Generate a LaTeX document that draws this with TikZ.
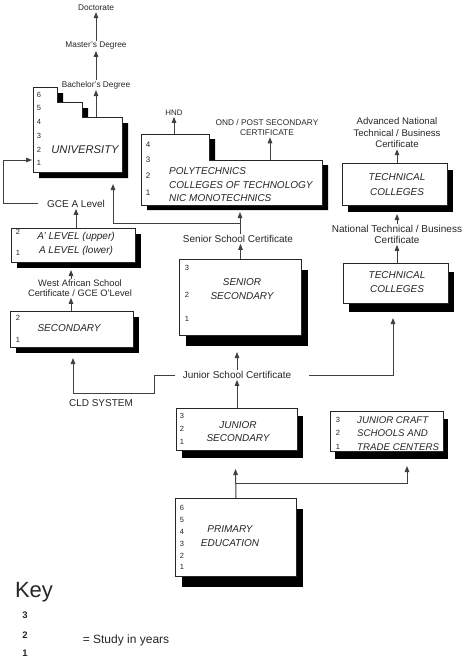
\documentclass[tikz,border=0pt]{standalone}
\usepackage{fontspec}
\setmainfont{Liberation Sans}
\usetikzlibrary{arrows.meta,shadows}
\tikzset{
  ink/.style={text=black!85},
  lbl/.style={ink, inner sep=0pt, align=center, font=\fontsize{10}{11}\selectfont},
  sml/.style={ink, inner sep=0pt, align=center, font=\fontsize{8.3}{10}\selectfont},
  btxt/.style={ink, inner sep=0pt, align=center, font=\fontsize{10}{14}\selectfont\itshape},
  num/.style={ink, inner sep=0pt, font=\fontsize{7.5}{9}\selectfont},
  keynum/.style={ink, inner sep=0pt, font=\fontsize{9.5}{10}\selectfont\bfseries},
  box/.style={draw=black!85, fill=white, line width=1pt, inner sep=0pt, anchor=north west},
  sh/.style 2 args={drop shadow={shadow xshift=#1pt, shadow yshift=-#2pt, fill=black, opacity=1}},
  conn/.style={draw=black!75, line width=1pt},
  arr/.style={conn, -{Triangle[length=6pt,width=4.6pt]}},
}
\begin{document}
\begin{tikzpicture}[x=1pt,y=-1pt]
\useasboundingbox (0,0) rectangle (468,659);

% ---------- University (stepped) ----------
\fill[black, shift={(6,6)}] (33,87) -- (57,87) -- (57,102) -- (82,102) -- (82,117) -- (122,117) -- (122,172) -- (33,172) -- cycle;
\draw[draw=black!85, fill=white, line width=1pt] (33,87) -- (57,87) -- (57,102) -- (82,102) -- (82,117) -- (122,117) -- (122,172) -- (33,172) -- cycle;
\node[btxt, font=\fontsize{11.2}{13}\selectfont\itshape] (uni) at (85,150) {UNIVERSITY};
\foreach \n/\y in {6/95,5/108,4/122,3/136,2/150,1/163} \node[num] (u\n) at (39,\y) {\n};

% ---------- Polytechnics (stepped) ----------
\fill[black, shift={(6,5)}] (141,134) -- (209,134) -- (209,160) -- (322,160) -- (322,205) -- (141,205) -- cycle;
\draw[draw=black!85, fill=white, line width=1pt] (141,134) -- (209,134) -- (209,160) -- (322,160) -- (322,205) -- (141,205) -- cycle;
\foreach \n/\y in {4/145,3/160,2/176,1/193} \node[num, font=\fontsize{8}{9}\selectfont] (p\n) at (148,\y) {\n};
\node[btxt, anchor=west, align=left] (polyt) at (169,185) {POLYTECHNICS\\[-0.3pt]COLLEGES OF TECHNOLOGY\\[-0.6pt]NIC MONOTECHNICS};

% ---------- rectangular boxes ----------
\node[box, minimum width=105pt, minimum height=42pt, sh={5}{6}] (tc1) at (342,163) {};
\node[btxt] (tc1t) at (397,184.5) {TECHNICAL\\[1pt]COLLEGES};
\node[box, minimum width=105pt, minimum height=40pt, sh={5}{8}] (tc2) at (343,263) {};
\node[btxt] (tc2t) at (397,282) {TECHNICAL\\COLLEGES};

\node[box, minimum width=124pt, minimum height=34pt, sh={5}{5}] (alev) at (11,228) {};
\node[btxt] (alevt) at (76,244) {A' LEVEL (upper)\\A LEVEL (lower)};
\node[num] (a2) at (18,232) {2};
\node[num] (a1) at (18,253) {1};

\node[box, minimum width=123pt, minimum height=36pt, sh={5}{5}] (sec) at (10,311) {};
\node[btxt] (sect) at (69,328) {SECONDARY};
\node[num] (s2) at (18,318) {2};
\node[num] (s1) at (18,340) {1};

\node[box, minimum width=122pt, minimum height=76pt, sh={6}{10}] (senior) at (179,259) {};
\node[btxt] (seniort) at (242,289) {SENIOR\\SECONDARY};
\node[num] (ss3) at (187,268) {3};
\node[num] (ss2) at (187,295) {2};
\node[num] (ss1) at (187,319) {1};

\node[box, minimum width=121pt, minimum height=42pt, sh={5}{7}] (junsec) at (176,408) {};
\node[btxt, font=\fontsize{10}{13.5}\selectfont\itshape] (junsect) at (238,431.5) {JUNIOR\\SECONDARY};
\foreach \n/\y in {3/416,2/429,1/442} \node[num] (js\n) at (182,\y) {\n};

\node[box, minimum width=113pt, minimum height=40pt, sh={4}{7}] (craft) at (330,411) {};
\node[btxt, anchor=west, align=left, font=\fontsize{9.7}{13.5}\selectfont\itshape] (craftt) at (357,433.5) {JUNIOR CRAFT\\SCHOOLS AND\\TRADE CENTERS};
\foreach \n/\y in {3/420,2/433,1/447} \node[num] (jc\n) at (338,\y) {\n};

\node[box, minimum width=121pt, minimum height=78pt, sh={6}{10}] (primary) at (175,498) {};
\node[btxt] (primt) at (230,536) {PRIMARY\\EDUCATION};
\foreach \n/\y in {6/508,5/520,4/532,3/544,2/556,1/567} \node[num] (pr\n) at (182,\y) {\n};

% ---------- labels ----------
\node[sml] (doct) at (96,8) {Doctorate};
\node[sml] (mast) at (96,46) {Master's Degree};
\node[sml] (bach) at (96,85) {Bachelor's Degree};
\node[sml, font=\fontsize{7.9}{10}\selectfont] (hnd) at (174,113) {HND};
\node[sml, font=\fontsize{8.3}{10}\selectfont] (ond) at (267,128) {OND / POST SECONDARY\\CERTIFICATE};
\node[lbl, font=\fontsize{9.6}{11.5}\selectfont] (adv) at (397,133) {Advanced National\\Technical / Business\\Certificate};
\node[lbl] (ntc) at (397,234.5) {National Technical / Business\\Certificate};
\node[lbl] (ssc) at (238,239) {Senior School Certificate};
\node[lbl] (gcea) at (76,204) {GCE A Level};
\node[lbl, font=\fontsize{9.3}{10.5}\selectfont] (waec) at (80,288) {West African School\\Certificate / GCE O'Level};
\node[lbl] (jsc) at (237,375) {Junior School Certificate};
\node[lbl] (cld) at (101,403) {CLD SYSTEM};

% ---------- coordinates for connector ends ----------
\coordinate (utop) at (96,117);
\coordinate (p1) at (174,134);
\coordinate (p2) at (270,160);
\coordinate (tc1in) at (397,214);
\coordinate (br) at (240,223);
\coordinate (polyin) at (240,212);
\coordinate (uniin) at (113,184);
\coordinate (uleft) at (32,160);
\coordinate (gl) at (38,203);
\coordinate (alevin) at (71,270);
\coordinate (senin) at (237,352);
\coordinate (j1) at (175,375);
\coordinate (j2) at (309,375);
\coordinate (secin) at (73,358);
\coordinate (tc2in) at (393,318);
\coordinate (jin) at (235.5,469);
\coordinate (pj) at (235.5,483);
\coordinate (cin) at (407,466);

% ---------- connectors ----------
\draw[arr, shorten >=1pt] (utop) -- (bach.south);
\draw[arr, shorten >=1pt, shorten <=1pt] (bach.north) -- (mast.south);
\draw[arr, shorten >=1pt, shorten <=1pt] (mast.north) -- (doct.south);
\draw[arr, shorten >=1pt] (p1) -- (hnd.south);
\draw[arr, shorten >=1pt] (p2) -- (p2 |- ond.south);
\draw[arr, shorten >=1pt] (tc1.north -| adv) -- (adv.south);
\draw[arr, shorten <=1pt] (ntc.north) -- (tc1in);
\draw[arr, shorten >=1pt] (tc2.north -| ntc) -- (ntc.south);
\draw[arr, shorten >=1pt] (senior.north) -- (senior.north |- ssc.south);
\draw[arr, shorten <=1pt] (ssc.north -| br) -- (polyin);
\draw[arr] (br) -- (uniin |- br) -- (uniin);
\draw[arr, shorten >=1pt] (alev.north -| gcea) -- (gcea.south);
\draw[arr] (gl) -- (3,203) -- (3,160) -- (uleft);
\draw[arr, shorten >=1pt] (sec.north -| alevin) -- (alevin |- waec.south);
\draw[arr] (waec.north -| alevin) -- (alevin);
\draw[arr, shorten >=1pt] (junsec.north) -- (junsec.north |- jsc.south);
\draw[arr, shorten <=1pt] (jsc.north) -- (senin);
\draw[arr] (j1) -- (154,375) -- (154,393) -- (secin |- 0,393) -- (secin);
\draw[arr] (j2) -| (tc2in);
\draw[arr] (primary.north) -- (jin);
\draw[arr] (pj) -| (cin);

% ---------- key ----------
\node[ink, inner sep=0pt, font=\fontsize{22}{24}\selectfont] (key) at (34,592) {Key};
\node[keynum] (k3) at (25,615) {3};
\node[keynum] (k2) at (25,635) {2};
\node[keynum] (k1) at (25,653) {1};
\node[ink, inner sep=0pt, font=\fontsize{12}{14}\selectfont] (study) at (126,640) {= Study in years};
\end{tikzpicture}
\end{document}
